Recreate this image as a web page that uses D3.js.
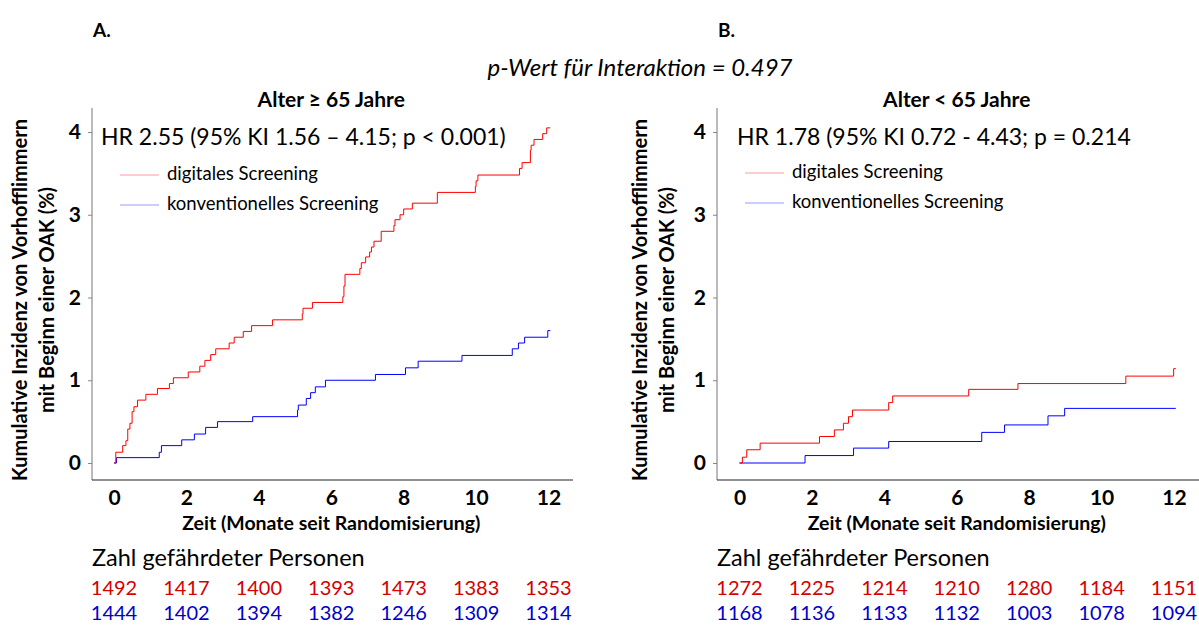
<!DOCTYPE html>
<html>
<head>
<meta charset="utf-8">
<script src="https://cdn.jsdelivr.net/npm/d3@7"></script>
<style>
  body { margin: 0; background: #fff; }
  text { font-family: Lato, "Open Sans", sans-serif; }
</style>
</head>
<body>
<div id="chart-container"></div>
<script>
const width = 1199;
const height = 628;

// tick labels
const monthTicks = [0, 2, 4, 6, 8, 10, 12];
const pctTicks = [0, 1, 2, 3, 4];

// cumulative incidence, [month, %] step points
const oldDigital = [[0,0],[0.05,0.13],[0.24,0.21],[0.33,0.27],[0.38,0.41],[0.44,0.48],[0.5,0.62],[0.55,0.68],
  [0.65,0.76],[0.88,0.83],[1.2,0.9],[1.53,0.96],[1.64,1.03],[2.05,1.1],[2.37,1.17],[2.51,1.24],[2.67,1.31],
  [2.81,1.38],[3.18,1.45],[3.32,1.52],[3.57,1.59],[3.8,1.66],[4.38,1.73],[5.2,1.8],[5.22,1.87],[5.48,1.94],
  [6.32,2.01],[6.35,2.14],[6.38,2.28],[6.79,2.35],[6.83,2.42],[6.95,2.49],[7.06,2.55],[7.11,2.61],[7.18,2.68],
  [7.38,2.8],[7.73,2.87],[7.76,2.94],[7.9,3.0],[8.0,3.07],[8.24,3.14],[8.93,3.27],[9.98,3.34],[10.0,3.41],
  [10.05,3.48],[11.2,3.56],[11.27,3.63],[11.5,3.78],[11.52,3.84],[11.6,3.91],[11.84,3.98],[11.95,4.05],[12.05,4.05]];
const oldConventional = [[0,0],[0.07,0.065],[1.25,0.13],[1.31,0.21],[1.87,0.28],[2.22,0.35],[2.53,0.43],
  [2.86,0.5],[3.83,0.56],[5.07,0.64],[5.09,0.7],[5.31,0.78],[5.43,0.85],[5.56,0.92],[5.84,1.0],[7.22,1.07],
  [8.05,1.15],[8.4,1.23],[9.61,1.3],[11.0,1.38],[11.17,1.45],[11.34,1.52],[11.98,1.6],[12.05,1.6]];
const youngDigital = [[0,0],[0.08,0.07],[0.2,0.16],[0.57,0.24],[2.21,0.32],[2.62,0.4],[2.87,0.48],[3.01,0.56],
  [3.12,0.64],[4.12,0.73],[4.23,0.81],[6.33,0.89],[7.69,0.96],[10.67,1.05],[11.99,1.14],[12.05,1.14]];
const youngConventional = [[0,0],[1.81,0.09],[3.15,0.18],[4.12,0.26],[6.69,0.37],[7.32,0.46],[8.52,0.57],
  [8.98,0.66],[12.05,0.66]];

// number at risk
const oldRiskDigital = [1492, 1417, 1400, 1393, 1473, 1383, 1353];
const oldRiskConventional = [1444, 1402, 1394, 1382, 1246, 1309, 1314];
const youngRiskDigital = [1272, 1225, 1214, 1210, 1280, 1184, 1151];
const youngRiskConventional = [1168, 1136, 1133, 1132, 1003, 1078, 1094];

const svg = d3.select("#chart-container")
  .append("svg")
  .attr("width", width)
  .attr("height", height);

// interaction p-value across both panels
svg.append("text")
  .attr("x", 640).attr("y", 76)
  .attr("text-anchor", "middle")
  .style("font-size", "24px").style("font-style", "italic")
  .text("p-Wert für Interaktion = 0.497");

const panels = [
  {letter: "A.", title: "Alter \u2265 65 Jahre", hr: "HR 2.55 (95% KI 1.56 \u2013 4.15; p < 0.001)",
   axisX: 92, axisEnd: 573, x0: 114, labelX: 20, hrX: 101, legX: 120,
   digital: oldDigital, conventional: oldConventional,
   riskD: oldRiskDigital, riskC: oldRiskConventional, legY: 175},
  {letter: "B.", title: "Alter < 65 Jahre", hr: "HR 1.78 (95% KI 0.72 - 4.43; p = 0.214",
   axisX: 717, axisEnd: 1199, x0: 739.5, labelX: 640, hrX: 737, legX: 745,
   digital: youngDigital, conventional: youngConventional,
   riskD: youngRiskDigital, riskC: youngRiskConventional, legY: 173}
];

panels.forEach(p => {
  const g = svg.append("g");
  const x = d3.scaleLinear().domain([0, 12]).range([p.x0, p.x0 + 434.5]);
  const y = d3.scaleLinear().domain([0, 4]).range([463, 132]);
  const mid = x(6);

  g.append("text").attr("x", p.axisX + 1).attr("y", 37)
    .style("font-size", "19px").style("font-weight", "bold").text(p.letter);

  g.append("text").attr("x", mid).attr("y", 107)
    .attr("text-anchor", "middle")
    .style("font-size", "21px").style("font-weight", "bold")
    .text(p.title);

  // y axis
  const yAxis = g.append("g")
    .attr("transform", `translate(${p.axisX},0)`)
    .call(d3.axisLeft(y).tickValues(pctTicks).tickSize(4).tickFormat(d3.format("d")));
  yAxis.select(".domain").remove();
  yAxis.selectAll("line").attr("stroke", "#888");
  yAxis.selectAll("text").attr("x", -11)
    .style("font-size", "21px").style("font-weight", "bold").attr("fill", "#000");
  g.append("line")
    .attr("x1", p.axisX).attr("x2", p.axisX).attr("y1", 108).attr("y2", 480)
    .attr("stroke", "#777").attr("stroke-width", 1);

  // x axis
  const xAxis = g.append("g")
    .attr("transform", "translate(0,480)")
    .call(d3.axisBottom(x).tickValues(monthTicks).tickSize(0).tickPadding(10));
  xAxis.select(".domain").remove();
  xAxis.selectAll("text")
    .style("font-size", "21px").style("font-weight", "bold").attr("fill", "#000");
  g.append("line")
    .attr("x1", p.axisX).attr("x2", p.axisEnd).attr("y1", 480).attr("y2", 480)
    .attr("stroke", "#222").attr("stroke-width", 1.2);

  // y label
  const yl = g.append("text")
    .attr("transform", `translate(${p.labelX},300) rotate(-90)`)
    .attr("text-anchor", "middle")
    .style("font-size", "20px").style("font-weight", "bold");
  yl.append("tspan").attr("x", 0).attr("dy", "0.35em").text("Kumulative Inzidenz von Vorhofflimmern");
  yl.append("tspan").attr("x", 0).attr("dy", "1.35em").text("mit Beginn einer OAK (%)");

  g.append("text").attr("x", mid).attr("y", 530)
    .attr("text-anchor", "middle")
    .style("font-size", "19.5px").style("font-weight", "bold")
    .text("Zeit (Monate seit Randomisierung)");

  // curves
  const line = d3.line().x(d => x(d[0])).y(d => y(d[1])).curve(d3.curveStepAfter);
  g.append("path").datum(p.conventional).attr("d", line)
    .attr("fill", "none").attr("stroke", "#0000ff").attr("stroke-width", 1);
  g.append("path").datum(p.digital).attr("d", line)
    .attr("fill", "none").attr("stroke", "#ff0000").attr("stroke-width", 1);

  // HR text + legend
  g.append("text").attr("x", p.hrX).attr("y", 145)
    .style("font-size", "23px").text(p.hr);
  [["digitales Screening", "#ff9a9a", 0], ["konventionelles Screening", "#9a9aff", 30]].forEach(([lab, col, dy]) => {
    g.append("line")
      .attr("x1", p.legX).attr("x2", p.legX + 39)
      .attr("y1", p.legY + dy).attr("y2", p.legY + dy)
      .attr("stroke", col).attr("stroke-width", 1);
    g.append("text").attr("x", p.legX + 47).attr("y", p.legY + dy + 5)
      .style("font-size", "18.5px").text(lab);
  });

  // number at risk
  g.append("text").attr("x", p.axisX).attr("y", 566)
    .style("font-size", "23.5px").text("Zahl gefährdeter Personen");
  g.selectAll(".rd").data(p.riskD).enter().append("text")
    .attr("x", (d, i) => x(monthTicks[i])).attr("y", 595)
    .attr("text-anchor", "middle").attr("fill", "#d40000")
    .style("font-size", "20px").text(d => d);
  g.selectAll(".rc").data(p.riskC).enter().append("text")
    .attr("x", (d, i) => x(monthTicks[i])).attr("y", 620)
    .attr("text-anchor", "middle").attr("fill", "#0000cc")
    .style("font-size", "20px").text(d => d);
});
</script>
</body>
</html>
